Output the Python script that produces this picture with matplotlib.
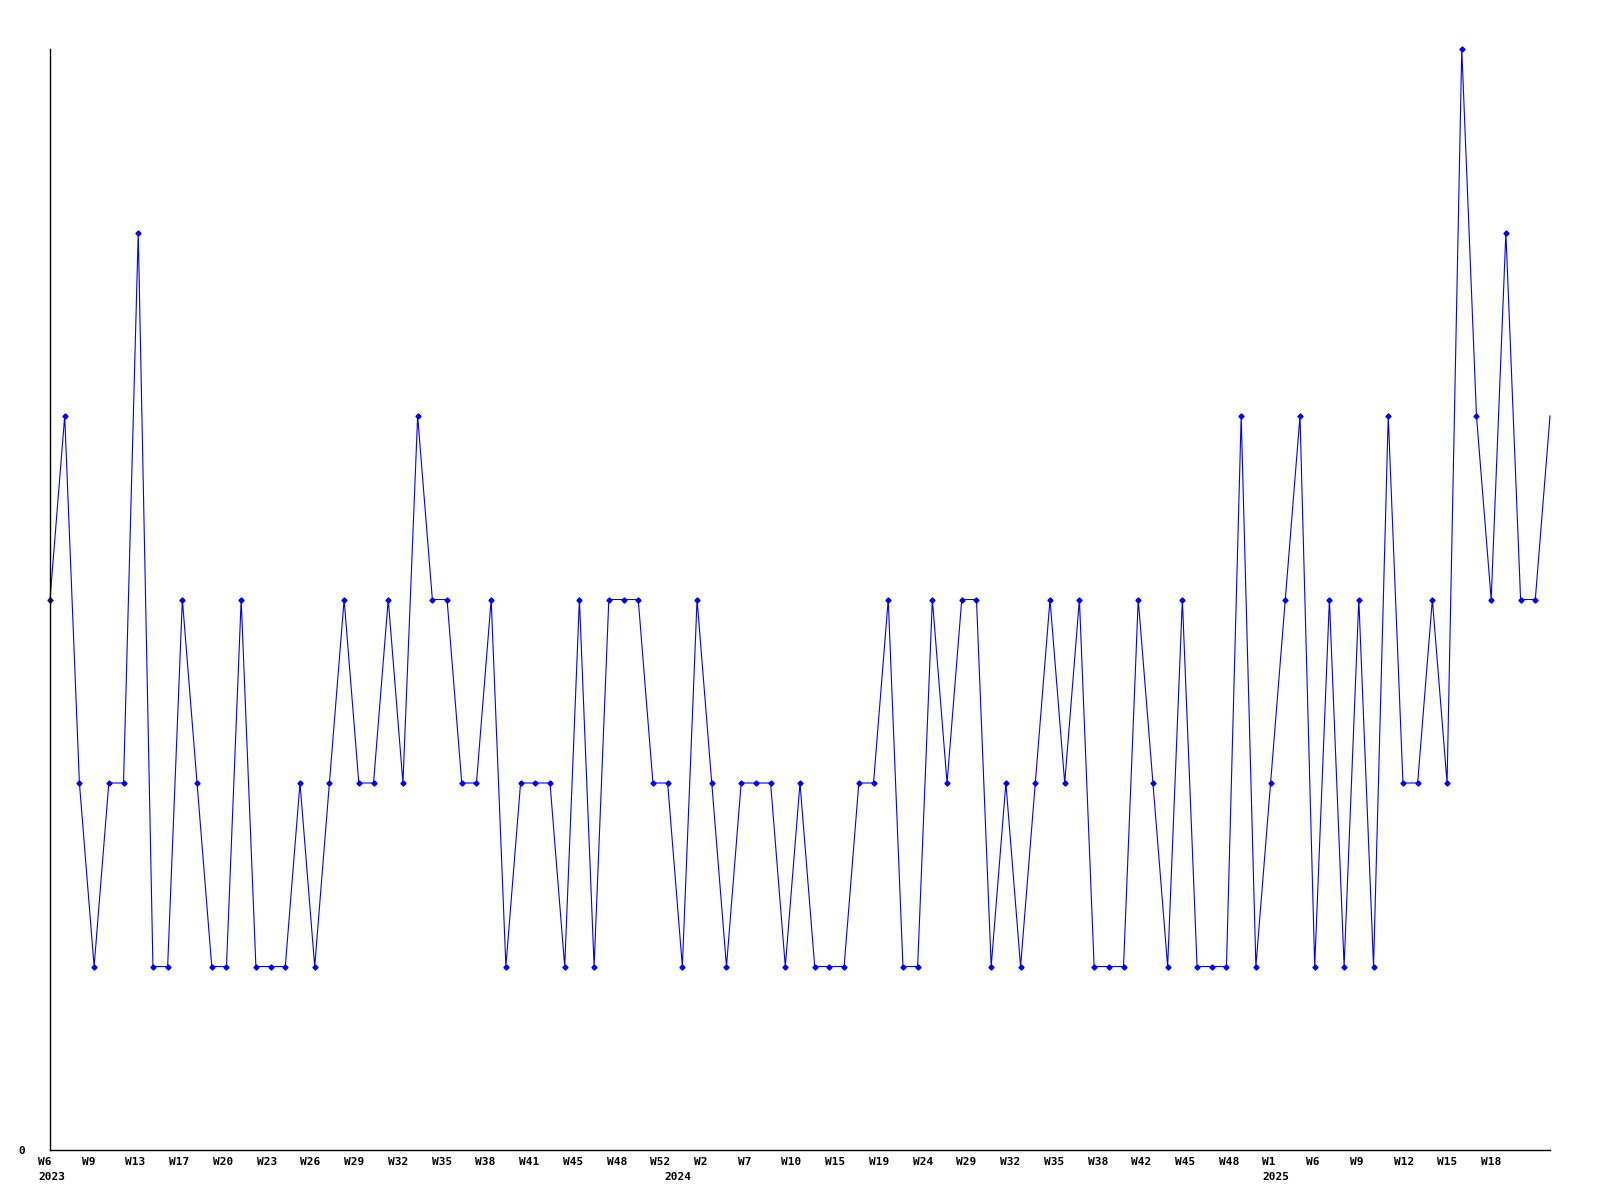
import matplotlib
matplotlib.use("Agg")
import matplotlib.pyplot as plt
import matplotlib.transforms as mtransforms

# ---- data ----
values = [3, 4, 2, 1, 2, 2, 5, 1, 1, 3,
          2, 1, 1, 3, 1, 1, 1, 2, 1, 2,
          3, 2, 2, 3, 2, 4, 3, 3, 2, 2,
          3, 1, 2, 2, 2, 1, 3, 1, 3, 3,
          3, 2, 2, 1, 3, 2, 1, 2, 2, 2,
          1, 2, 1, 1, 1, 2, 2, 3, 1, 1,
          3, 2, 3, 3, 1, 2, 1, 2, 3, 2,
          3, 1, 1, 1, 3, 2, 1, 3, 1, 1,
          1, 4, 1, 2, 3, 4, 1, 3, 1, 3,
          1, 4, 2, 2, 3, 2, 6, 4, 3, 5,
          3, 3, 4]
week_labels = ["W6", "W9", "W13", "W17", "W20", "W23", "W26", "W29", "W32",
               "W35", "W38", "W41", "W45", "W48", "W52",
               "W2", "W7", "W10", "W15", "W19", "W24", "W29", "W32", "W35",
               "W38", "W42", "W45", "W48",
               "W1", "W6", "W9", "W12", "W15", "W18"]
label_step = 3
year_labels = ["2023", "2024", "2025"]
year_positions = [0, 43, 84]

# ---- figure ----
W, H = 1600, 1200
fig = plt.figure(figsize=(16, 12), dpi=100)
x0, x1, y0, y1 = 50, 1550, 49, 1150
ax = fig.add_axes([x0 / W, 1 - y1 / H, (x1 - x0) / W, (y1 - y0) / H])

xs = list(range(len(values)))
ax.plot(xs, values, color=(0, 0, 1), linewidth=0.8, marker="D",
        markersize=2.6, markerfacecolor=(0, 0, 1), markeredgecolor=(0, 0, 1),
        markevery=slice(0, len(values) - 1), clip_on=False)

ax.set_xlim(0, len(values) - 1)
ax.set_ylim(0, max(values))

for s in ("top", "right"):
    ax.spines[s].set_visible(False)
for s in ("left", "bottom"):
    ax.spines[s].set_linewidth(1.0)
    ax.spines[s].set_color("black")

font = dict(family="DejaVu Sans Mono", weight="bold", size=8)

ax.set_yticks([0])
ax.set_yticklabels(["0"], **font)
ax.tick_params(axis="y", length=0, pad=18)
ax.set_xticks([])

# label scale of the original is slightly tighter than the point spacing
px_per_pt = (x1 - x0) / (len(values) - 1)
lab_step_px = 14.577


def fwd(x):
    return x * px_per_pt / lab_step_px


def inv(s):
    return s * lab_step_px / px_per_pt


shift = mtransforms.ScaledTranslation(-12 / 100, 0, fig.dpi_scale_trans)

sec = ax.secondary_xaxis("bottom", functions=(fwd, inv))
sec.set_xticks([i * label_step for i in range(len(week_labels))])
sec.set_xticklabels(week_labels, ha="left", **font)
sec.tick_params(length=0, pad=5)
sec.spines["bottom"].set_visible(False)
for lab in sec.get_xticklabels():
    lab.set_transform(lab.get_transform() + shift)

sec2 = ax.secondary_xaxis("bottom", functions=(fwd, inv))
sec2.set_xticks(year_positions)
sec2.set_xticklabels(year_labels, ha="left", **font)
sec2.tick_params(length=0, pad=16)
sec2.spines["bottom"].set_visible(False)
for lab in sec2.get_xticklabels():
    lab.set_transform(lab.get_transform() + shift)

fig.savefig("out.png", dpi=100, facecolor="white")
